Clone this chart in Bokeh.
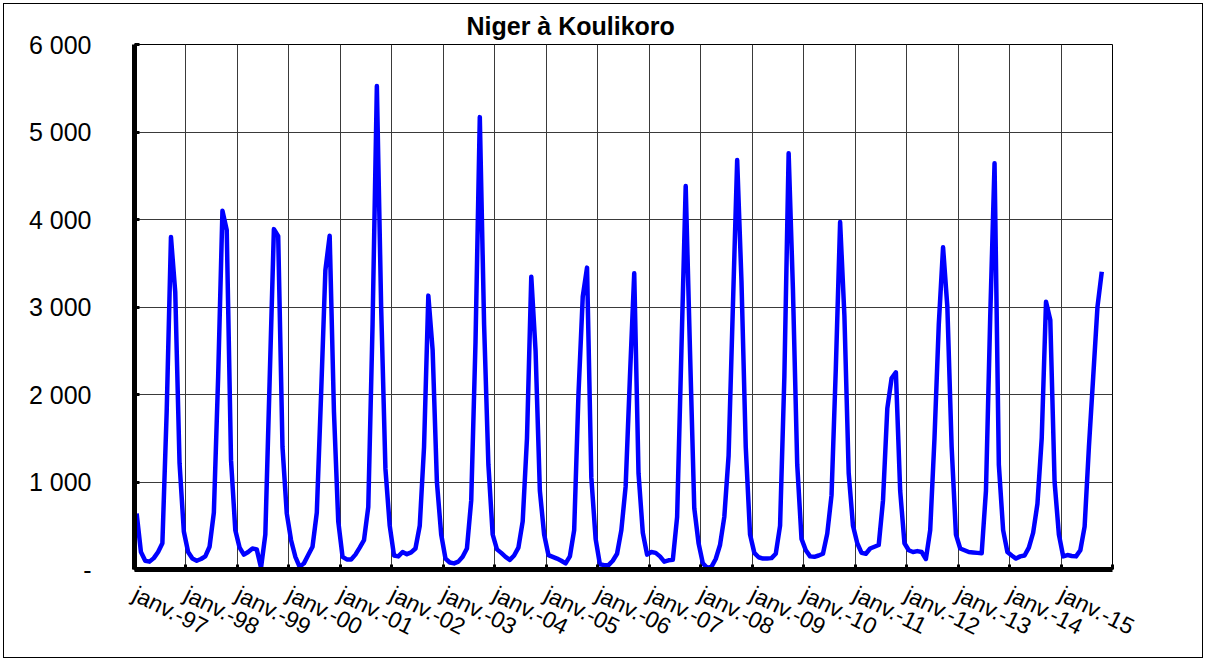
from bokeh.plotting import figure
from bokeh.models import FixedTicker, Range1d
from bokeh.embed import file_html
from bokeh.resources import INLINE

# Monthly discharge (m3/s), Niger at Koulikoro (Jan..Dec)
q1997 = [640, 200, 100, 90, 130, 200, 300, 1800, 3800, 3170, 1215, 435]
q1998 = [200, 125, 100, 120, 150, 260, 650, 2200, 4100, 3880, 1250, 450]
q1999 = [250, 170, 200, 240, 230, 20, 400, 2150, 3890, 3810, 1400, 640]
q2000 = [335, 145, 30, 70, 165, 260, 650, 2000, 3420, 3815, 1800, 550]
q2001 = [145, 115, 115, 170, 250, 335, 715, 2800, 5525, 3000, 1150, 500]
q2002 = [160, 150, 200, 175, 195, 240, 500, 1400, 3130, 2510, 1000, 400]
q2003 = [125, 80, 70, 90, 145, 240, 790, 2600, 5170, 2800, 1200, 400]
q2004 = [230, 190, 145, 110, 160, 250, 550, 1500, 3346, 2500, 900, 400]
q2005 = [165, 145, 125, 100, 70, 150, 450, 2000, 3118, 3450, 1050, 350]
q2006 = [60, 50, 50, 100, 180, 450, 950, 2200, 3385, 1100, 420, 170]
q2007 = [200, 190, 150, 90, 105, 110, 600, 2500, 4383, 2500, 700, 300]
q2008 = [70, 20, 30, 120, 280, 600, 1300, 3000, 4680, 3300, 1400, 400]
q2009 = [190, 140, 125, 125, 130, 180, 500, 2200, 4757, 3200, 1200, 350]
q2010 = [220, 150, 145, 160, 180, 410, 850, 2300, 3971, 2900, 1100, 500]
q2011 = [300, 190, 180, 240, 260, 280, 790, 1840, 2185, 2254, 900, 300]
q2012 = [220, 200, 210, 200, 120, 450, 1500, 2800, 3682, 3000, 1400, 400]
q2013 = [240, 220, 200, 195, 190, 185, 900, 2900, 4642, 1200, 450, 200]
q2014 = [160, 125, 150, 160, 250, 420, 750, 1500, 3060, 2850, 1000, 400]
q2015 = [150, 165, 155, 150, 220, 490, 1400, 2200, 3003, 3403]

years = list(range(1997, 2016))
yearly = [q1997, q1998, q1999, q2000, q2001, q2002, q2003, q2004, q2005, q2006,
          q2007, q2008, q2009, q2010, q2011, q2012, q2013, q2014, q2015]

x_tick_labels = ["janv.-97", "janv.-98", "janv.-99", "janv.-00", "janv.-01",
                 "janv.-02", "janv.-03", "janv.-04", "janv.-05", "janv.-06",
                 "janv.-07", "janv.-08", "janv.-09", "janv.-10", "janv.-11",
                 "janv.-12", "janv.-13", "janv.-14", "janv.-15"]
y_ticks = [0, 1000, 2000, 3000, 4000, 5000, 6000]
y_tick_labels = ["-", "1 000", "2 000", "3 000", "4 000", "5 000", "6 000"]
title_text = "Niger à Koulikoro"

# x = months since janv. 1997, each value placed mid-month
xs, ys = [], []
for yr, vals in zip(years, yearly):
    for m, v in enumerate(vals):
        xs.append((yr - years[0]) * 12 + m + 0.5)
        ys.append(v)

n_years = len(years)  # axis spans janv.-97 .. janv.-16
x_ticks = [12 * i for i in range(n_years + 1)]
x_overrides = {12 * i: lab for i, lab in enumerate(x_tick_labels)}
x_overrides[12 * n_years] = ""

FONT = "Liberation Sans"

p = figure(frame_width=978, frame_height=525,
           x_range=Range1d(0, 12 * n_years), y_range=Range1d(0, 6000),
           output_backend="svg", toolbar_location=None,
           min_border_left=130, min_border_right=90,
           min_border_top=40, min_border_bottom=88,
           title=title_text)

p.styles = {"border": "1px solid black", "margin-left": "3px", "margin-top": "3px"}

p.title.text_font = FONT
p.title.text_font_style = "bold"
p.title.text_font_size = "25px"
p.title.text_color = "black"
p.title.align = "left"
p.title.offset = 332
p.title.standoff = 10

p.line(xs, ys, line_color="#0000FF", line_width=4.5, line_join="round")

# x axis
p.xaxis.ticker = FixedTicker(ticks=x_ticks)
p.xaxis.major_label_overrides = x_overrides
p.xaxis.major_label_orientation = -0.46
p.xaxis.major_label_standoff = 23
p.xaxis.major_label_text_font = FONT
p.xaxis.major_label_text_font_size = "23px"
p.xaxis.major_label_text_color = "black"

# y axis
p.yaxis.ticker = FixedTicker(ticks=y_ticks)
p.yaxis.major_label_overrides = {t: lab for t, lab in zip(y_ticks, y_tick_labels)}
p.yaxis.major_label_standoff = 43
p.yaxis.major_label_text_font = FONT
p.yaxis.major_label_text_font_size = "25px"
p.yaxis.major_label_text_color = "black"

for ax in (p.xaxis, p.yaxis):
    ax.axis_line_color = "black"
    ax.axis_line_width = 5
    ax.major_tick_line_color = "black"
    ax.major_tick_line_width = 3
    ax.major_tick_in = 5
    ax.major_tick_out = 0
    ax.minor_tick_line_color = None

p.grid.grid_line_color = "#3a3a3a"
p.grid.grid_line_width = 1
p.outline_line_color = "black"
p.outline_line_width = 1
p.background_fill_color = "white"
p.border_fill_color = "white"

open("out.html", "w").write(file_html(p, INLINE))
